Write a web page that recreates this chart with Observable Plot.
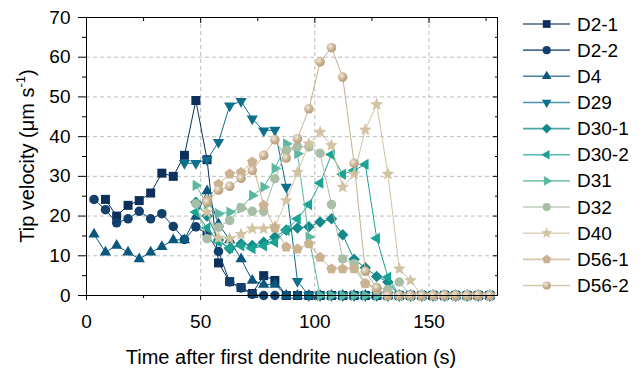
<!DOCTYPE html>
<html><head><meta charset="utf-8">
<script src="https://cdn.jsdelivr.net/npm/d3@7"></script>
<script src="https://cdn.jsdelivr.net/npm/@observablehq/plot@0.6"></script>
<style>
body{margin:0;background:#fff;font-family:"Liberation Sans",Arial,sans-serif;}
#chart{position:relative;width:641px;height:368px;overflow:hidden;}
</style></head><body><div id="chart"></div>
<script>
// time axis (s)
const times = [3.3, 8.3, 13.2, 18.2, 23.1, 28.1, 33.0, 38.0, 42.9, 47.9, 52.8, 57.8, 62.7, 67.7, 72.6, 77.6, 82.5, 87.5, 92.4, 97.4, 102.3, 107.3, 112.2, 117.2, 122.1, 127.1, 132.0, 137.0, 141.9, 146.9, 151.8, 156.8, 161.7, 166.7, 171.6, 176.6];

const seriesNames = ["D2-1", "D2-2", "D4", "D29", "D30-1", "D30-2", "D31", "D32", "D40", "D56-1", "D56-2"];
const seriesColors = ["#0c2f5c", "#123f6c", "#0b587f", "#0d6f8b", "#12898b", "#1ba394", "#5cb8a0", "#a9bea6", "#d2c3a3", "#cbb392", "url(#sphere)"];
const lineColors = ["#0c2f5c", "#123f6c", "#0b587f", "#0d6f8b", "#12898b", "#1ba394", "#5cb8a0", "#a9bea6", "#d2c3a3", "#cbb392", "#c9b091"];
const seriesSymbols = ["square", "circle", "triUp", "triDown", "diamond", "triLeft", "triRight", "circle", "star", "pentagon", "circle"];

const _ = null;
const D2_1  = [_, 24.2, 20.0, 22.7, 23.9, 25.8, 30.8, 30.0, 35.3, 49.1, 34.2, 8.2, 3.5, 2.0, 0.5, 5.0, 3.8, 0, 0, 0, 0, 0, 0, 0, 0, 0, 0, 0, 0, 0, 0, 0, 0, 0, 0, 0];
const D2_2  = [24.2, 21.6, 18.3, 19.3, 21.2, 19.3, 20.6, 17.4, 14.1, 17.3, 15.5, 11.1, 3.4, 1.9, 0.3, 0, 0, 0, 0, 0, 0, 0, 0, 0, 0, 0, 0, 0, 0, 0, 0, 0, 0, 0, 0, 0];
const D4    = [15.4, 10.9, 12.6, 10.9, 9.2, 10.9, 12.3, 14.0, 14.0, 19.9, 26.3, 18.0, 14.0, 9.2, 3.8, 2.8, 2.8, 0, 0, 0, 0, 0, 0, 0, 0, 0, 0, 0, 0, 0, 0, 0, 0, 0, 0, 0];
const D29   = [_, _, _, _, _, _, _, _, 33.3, 33.3, 34.2, 38.6, 47.8, 48.9, 44.5, 41.5, 41.7, 27.3, 3.6, 0, 0, 0, 0, 0, 0, 0, 0, 0, 0, 0, 0, 0, 0, 0, 0, 0];
const D30_1 = [_, _, _, _, _, _, _, _, _, 23.5, 20.0, 14.0, 11.8, 13.0, 12.6, 13.4, 14.7, 16.5, 17.0, 17.3, 18.5, 19.3, 15.3, 9.1, 7.0, 4.8, 3.4, 0, 0, 0, 0, 0, 0, 0, 0, 0];
const D30_2 = [_, _, _, _, _, _, _, _, _, 21.0, 17.0, 13.5, 12.0, 12.5, 11.8, 12.5, 13.4, 16.4, 19.3, 22.9, 28.3, 35.5, 30.5, 31.5, 33.0, 14.4, 4.6, 0, 0, 0, 0, 0, 0, 0, 0, 0];
const D31   = [_, _, _, _, _, _, _, _, _, 27.7, 23.0, 20.6, 21.0, 22.0, 25.2, 27.3, 32.0, 38.2, 35.7, 14.7, 0, 0, 0, 0, 0, 0, 0, 0, 0, 0, 0, 0, 0, 0, 0, 0];
const D32   = [_, _, _, _, _, _, _, _, _, 23.1, 14.3, 17.2, 18.9, 22.1, 21.2, 21.2, 29.4, 36.5, 37.5, 37.4, 35.8, 22.9, 9.2, 8.0, 3.0, 2.0, 1.5, 3.4, 0, 0, 0, 0, 0, 0, 0, 0];
const D40   = [_, _, _, _, _, _, _, _, _, _, 21.0, 14.5, 14.3, 15.4, 16.8, 16.8, 17.4, 23.9, 31.0, 38.2, 41.1, 37.8, 27.3, 30.6, 41.7, 48.1, 30.6, 6.7, 3.8, 0, 0, 0, 0, 0, 0, 0];
const D56_1 = [_, _, _, _, _, _, _, _, _, _, 24.0, 28.0, 30.6, 31.0, 33.6, 22.7, 17.0, 12.2, 11.7, 13.0, 9.6, 6.7, 6.7, 6.7, 3.0, 1.5, 0, 0, 0, 0, 0, 0, 0, 0, 0, 0];
const D56_2 = [_, _, _, _, _, _, _, _, _, _, 23.5, 26.5, 27.5, 29.5, 31.5, 35.3, 39.2, 34.6, 39.5, 47.0, 58.8, 62.4, 55.0, 33.3, 6.1, 1.9, 0, 0, 0, 0, 0, 0, 0, 0, 0, 0];
const seriesValues = [D2_1, D2_2, D4, D29, D30_1, D30_2, D31, D32, D40, D56_1, D56_2];

const xMajor = [0, 50, 100, 150];
const xMinor = [25, 75, 125, 175];
const yMajor = [0, 10, 20, 30, 40, 50, 60, 70];
const yMinor = [5, 15, 25, 35, 45, 55, 65];

// marker shapes (unit geometry scaled by dot radius)
const c30 = Math.cos(Math.PI / 6);
function poly(pts) {
  return {draw(ctx, size) {
    const r = Math.sqrt(size / Math.PI);
    pts.forEach(([x, y], i) => i ? ctx.lineTo(x * r, y * r) : ctx.moveTo(x * r, y * r));
    ctx.closePath();
  }};
}
function starPts(o, inner) {
  const p = [];
  for (let i = 0; i < 10; i++) {
    const a = -Math.PI / 2 + i * Math.PI / 5, rr = i % 2 ? inner : o;
    p.push([rr * Math.cos(a), rr * Math.sin(a)]);
  }
  return p;
}
function ngon(n, rr) {
  const p = [];
  for (let i = 0; i < n; i++) { const a = -Math.PI / 2 + i * 2 * Math.PI / n; p.push([rr * Math.cos(a), rr * Math.sin(a)]); }
  return p;
}
const k = 1.3;
const symbols = {
  square: poly([[-0.9, -0.9], [0.9, -0.9], [0.9, 0.9], [-0.9, 0.9]]),
  circle: {draw(ctx, size) { const r = Math.sqrt(size / Math.PI) * 0.95; ctx.moveTo(r, 0); ctx.arc(0, 0, r, 0, 2 * Math.PI); ctx.closePath(); }},
  triUp: poly([[0, -k], [k * c30, k / 2], [-k * c30, k / 2]]),
  triDown: poly([[0, k], [k * c30, -k / 2], [-k * c30, -k / 2]]),
  triLeft: poly([[-k, 0], [k / 2, k * c30], [k / 2, -k * c30]]),
  triRight: poly([[k, 0], [-k / 2, k * c30], [-k / 2, -k * c30]]),
  diamond: poly([[0, -1.15], [1.15, 0], [0, 1.15], [-1.15, 0]]),
  star: poly(starPts(1.35, 0.6)),
  pentagon: poly(ngon(5, 1.1))
};

const marks = [
  Plot.gridX(xMajor.slice(1), {stroke: "#bdbdbd", strokeOpacity: 1, strokeDasharray: "4,3"}),
  Plot.gridY(yMajor.slice(1, -1), {stroke: "#bdbdbd", strokeOpacity: 1, strokeDasharray: "4,3"})
];
seriesNames.forEach((name, i) => {
  const rows = times.map((t, j) => ({t, v: seriesValues[i][j]})).filter(d => d.v != null);
  marks.push(Plot.line(rows, {x: "t", y: "v", stroke: lineColors[i], strokeWidth: 1}));
  marks.push(Plot.dot(rows, {x: "t", y: "v", r: 5, symbol: symbols[seriesSymbols[i]], fill: seriesColors[i], stroke: "none"}));
});
marks.push(
  Plot.axisX({ticks: xMajor, tickSize: 5, tickPadding: 14, fontSize: 19, stroke: "#000", label: null}),
  Plot.axisX({ticks: xMinor, tickSize: 3, text: null, stroke: "#000", label: null}),
  Plot.axisX({anchor: "top", ticks: xMajor, tickSize: -5, text: null, stroke: "#000", label: null}),
  Plot.axisX({anchor: "top", ticks: xMinor, tickSize: -3, text: null, stroke: "#000", label: null}),
  Plot.axisY({ticks: yMajor, tickSize: 8, tickPadding: 8, fontSize: 19, stroke: "#000", label: null}),
  Plot.axisY({ticks: yMinor, tickSize: 4, text: null, stroke: "#000", label: null}),
  Plot.axisY({anchor: "right", ticks: yMajor, tickSize: -5, text: null, stroke: "#000", label: null}),
  Plot.axisY({anchor: "right", ticks: yMinor, tickSize: -3, text: null, stroke: "#000", label: null}),
  Plot.frame({stroke: "#000", strokeWidth: 1})
);

const plot = Plot.plot({
  width: 641, height: 368,
  marginLeft: 86, marginRight: 144, marginTop: 17, marginBottom: 73,
  x: {domain: [0, 180]},
  y: {domain: [0, 70]},
  style: {fontFamily: "'Liberation Sans', Arial, sans-serif", fontSize: "19px", color: "#000", background: "#fff"},
  marks
});
document.getElementById("chart").appendChild(plot);

const svg = d3.select(plot);
const defs = svg.insert("defs", ":first-child");
const grad = defs.append("radialGradient").attr("id", "sphere").attr("cx", "38%").attr("cy", "35%").attr("r", "65%");
grad.append("stop").attr("offset", "0%").attr("stop-color", "#f3ebdf");
grad.append("stop").attr("offset", "55%").attr("stop-color", "#cdb596");
grad.append("stop").attr("offset", "100%").attr("stop-color", "#b59a77");

// axis titles
const yt = svg.append("text").attr("transform", "translate(27,156) rotate(-90)")
  .attr("text-anchor", "middle").attr("dominant-baseline", "central")
  .attr("font-size", 20).attr("fill", "#000");
yt.append("tspan").text("Tip velocity (μm s");
yt.append("tspan").attr("dy", -7).attr("font-size", 13).text("-1");
yt.append("tspan").attr("dy", 7).text(")");
svg.append("text").attr("x", 291).attr("y", 357).attr("text-anchor", "middle")
  .attr("dominant-baseline", "central").attr("font-size", 20).attr("fill", "#000")
  .text("Time after first dendrite nucleation (s)");

// legend
const lg = svg.append("g").attr("text-anchor", "start");
seriesNames.forEach((name, i) => {
  const y = 24 + i * 26.15;
  lg.append("line").attr("x1", 523).attr("x2", 570).attr("y1", y).attr("y2", y)
    .attr("stroke", lineColors[i]).attr("stroke-width", 1.6).attr("stroke-opacity", 0.75);
  const p = d3.path();
  symbols[seriesSymbols[i]].draw(p, Math.PI * 4.3 * 4.3);
  lg.append("path").attr("d", p.toString()).attr("transform", `translate(546.7,${y})`).attr("fill", seriesColors[i]);
  lg.append("text").attr("x", 577).attr("y", y).attr("text-anchor", "start").attr("dominant-baseline", "central")
    .attr("font-size", 19).attr("fill", "#000").text(name);
});
</script></body></html>
